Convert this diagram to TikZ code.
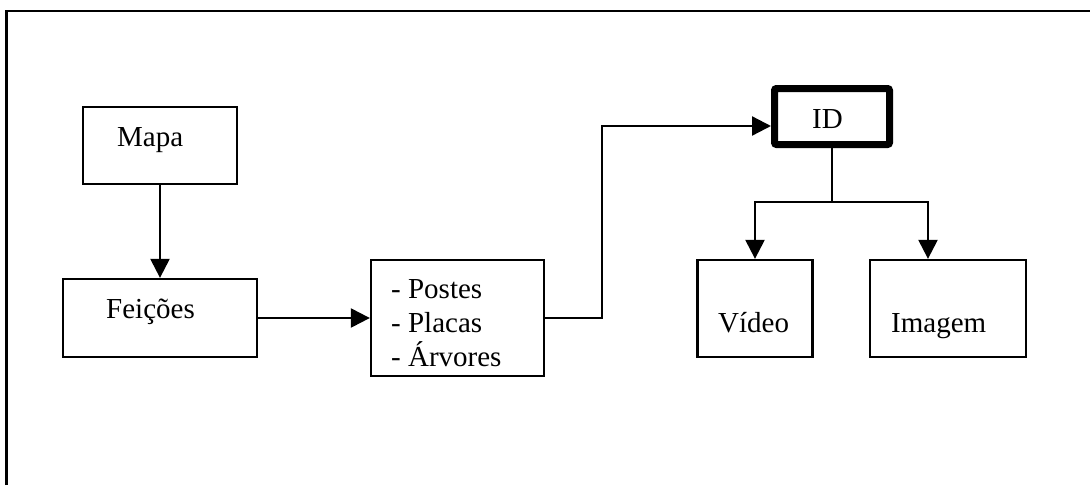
\documentclass[tikz,border=0pt]{standalone}
\usepackage{fontspec}
\setmainfont{Liberation Serif}
\usetikzlibrary{arrows.meta}
\begin{document}
\begin{tikzpicture}[x=1pt,y=-1pt,
  box/.style={draw, line width=2.3pt, inner sep=0pt},
  txt/.style={anchor=base west, inner sep=0pt, font=\fontsize{29}{34}\selectfont},
  conn/.style={line width=2.3pt},
  arr/.style={line width=2.3pt, -{Triangle[length=19pt,width=19pt]}}]
\useasboundingbox (0,0) rectangle (1090,485);
% outer frame (cut at right and bottom)
\draw[line width=2.3pt] (6.5,485) -- (6.5,11) -- (1090,11);
% boxes
\node[box, minimum width=154pt, minimum height=77pt] (mapa) at (160,145.5) {};
\node[box, minimum width=194pt, minimum height=78pt] (feicoes) at (160,318) {};
\node[box, minimum width=173pt, minimum height=116pt] (lista) at (457.5,318) {};
\node[draw, line width=7pt, rounded corners=2pt, inner sep=0pt, minimum width=115pt, minimum height=56pt] (id) at (832,116.5) {};
\node[box, minimum width=115pt, minimum height=97pt] (video) at (755,308.5) {};
\node[box, minimum width=156pt, minimum height=97pt] (imagem) at (948,308.5) {};
% texts
\node[txt] (tmapa) at (117,146) {Mapa};
\node[txt] (tfeicoes) at (106,318) {Feições};
\node[txt] (tl1) at (391,298) {- Postes};
\node[txt] (tl2) at (391,332) {- Placas};
\node[txt] (tl3) at (391,366) {- Árvores};
\node[txt] (tid) at (812,128) {ID};
\node[txt] (tvideo) at (718,332) {Vídeo};
\node[txt] (timagem) at (891,332) {Imagem};
% connectors
\draw[arr] (mapa.south) -- (feicoes.north);
\draw[arr] (feicoes.east) -- (lista.west);
\coordinate (j1) at (602,126);
\draw[arr] (lista.east) -| (j1) -- (j1 -| id.west);
\coordinate (j2) at (832,202);
\coordinate (j3) at (928,202);
\coordinate (j4) at (755,202);
\draw[conn] (id.south) -- (j2);
\draw[conn, line cap=rect] (j4) -- (j3);
\draw[arr] (j4) -- (video.north);
\draw[arr] (j3) -- (j3 |- imagem.north);
\end{tikzpicture}
\end{document}
